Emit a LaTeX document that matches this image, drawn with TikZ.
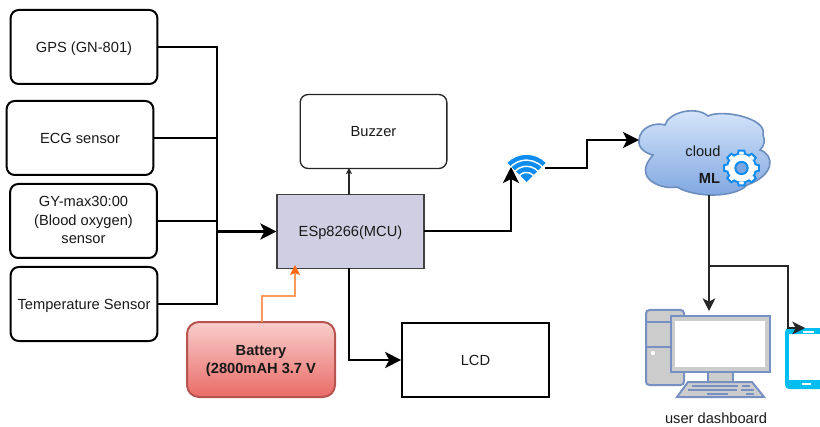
\documentclass[tikz,border=0pt]{standalone}
\usepackage{fontspec}
\setmainfont{Liberation Sans}
\usetikzlibrary{arrows.meta,calc}
\definecolor{bluestroke}{HTML}{6C8EBF}
\definecolor{cloudtop}{HTML}{DAE8FC}
\definecolor{cloudbot}{HTML}{7EA6E0}
\definecolor{batttop}{HTML}{F8CECC}
\definecolor{battbot}{HTML}{EA6B66}
\definecolor{battline}{HTML}{B85450}
\definecolor{wifiblue}{HTML}{0F8CF0}
\definecolor{phoneblue}{HTML}{00BEF2}
\definecolor{mcufill}{HTML}{D0CEE2}
\definecolor{orangeline}{HTML}{FF9A5C}
\definecolor{orangehead}{HTML}{FF6A13}
\definecolor{pcstroke}{HTML}{7790C4}
\newcommand{\lowtext}[1]{\raisebox{-3.9pt}[0pt][0pt]{#1}}
\tikzset{
  every node/.style={font=\fontsize{11pt}{13pt}\selectfont, align=center, text=black!90},
  block/.style={draw=black, fill=white, rounded corners=6, line width=1.5pt, minimum width=110pt, minimum height=55.5pt, inner sep=0pt},
  wire/.style={draw=black, line width=2.1pt, -{Stealth[length=12pt,width=12pt,inset=3pt]}},
  plainwire/.style={draw=black, line width=1.9pt},
  thinwire/.style={draw=black!85, line width=1pt, -{Stealth[length=9.5pt,width=9.5pt,inset=2.5pt]}},
  tinyarrow/.style={draw=black!85, line width=.8pt, -{Stealth[length=4.5pt,width=4.5pt,inset=1pt]}},
  pcpart/.style={draw=pcstroke, fill=black!20, line width=1.5pt},
  keyrow/.style={draw=pcstroke, line width=1pt},
}
\begin{document}
\begin{tikzpicture}[x=0.75pt,y=-0.75pt]
\useasboundingbox (0,0) rectangle (820,427);
% sensor boxes
\node[block] (gps) at (84,47) {\lowtext{GPS (GN-801)}};
\node[block] (ecg) at (80,138) {\lowtext{ECG sensor}};
\node[block] (gy) at (83.5,221) {\raisebox{-3pt}[0pt][0pt]{\renewcommand{\arraystretch}{1.06}\begin{tabular}[c]{@{}c@{}}GY-max30:00\\(Blood oxygen)\\sensor\end{tabular}}};
\node[block] (temp) at (84,304) {\lowtext{Temperature Sensor}};
\node[block, line width=1pt, draw=black!85] (buzzer) at (373.5,131.5) {\lowtext{Buzzer}};
\node[block, fill=mcufill, rounded corners=0, line width=1.1pt, draw=black!75] (esp) at (350.5,231.5) {\lowtext{ESp8266(MCU)}};
\node[block, rounded corners=0] (lcd) at (475.5,360) {\lowtext{LCD}};
\shade[top color=batttop, bottom color=battbot, draw=none, rounded corners=9] (187,322) rectangle (335,397);
\draw[draw=battline, line width=1.5pt, rounded corners=9] (187,322) rectangle (335,397);
\node[font=\fontsize{11pt}{13pt}\selectfont\bfseries] (battlabel) at (261,361) {Battery\\(2800mAH 3.7 V};
% connectors from sensors
\coordinate (bus) at (217,231.5);
\draw[plainwire] (gps.east) -| (bus);
\draw[plainwire] (ecg.east) -| (bus);
\draw[plainwire] (gy.east) -| (bus);
\draw[plainwire] (temp.east) -| (bus);
\draw[wire, line width=2.4pt] (bus) -- (esp.west);
\coordinate (espTop) at (349,195);
\coordinate (buzBot) at (349,168);
\draw[tinyarrow] (espTop) -- (buzBot);
\coordinate (espBot) at (349,268);
\draw[wire, line width=1.9pt] (espBot) |- (lcd.west);
% battery link
\coordinate (battTop) at (262,322);
\coordinate (espIn) at (295,265);
\draw[orangeline, line width=1pt, -{Stealth[length=7.5pt,width=7.5pt,inset=1.5pt,color=orangehead]}] (battTop) -- (262,296) -- (295,296) -- (espIn);
% wifi
\coordinate (wc) at (526.5,182);
\fill[wifiblue] (wc) -- ($(wc)+(45:20.3pt)$) arc[start angle=45,end angle=135,radius=20.3pt] -- cycle;
\foreach \r in {16.4,11.8,7.2}{
  \draw[white, line width=1.1pt] ($(wc)+(43:\r pt)$) arc[start angle=43,end angle=137,radius=\r pt];
}
\coordinate (wifiL) at (511,167);
\coordinate (wifiR) at (545,168);
\coordinate (espOut) at (424,231);
\draw[wire] (espOut) -| (wifiL);
% cloud
\coordinate (cloudL) at (639,140);
\path[top color=cloudtop, bottom color=cloudbot, draw=bluestroke, line width=1.2pt]
 (639,140) .. controls (640,127) and (655,122) .. (665,125)
 .. controls (668,113) and (695,105) .. (708,116)
 .. controls (722,109) and (768,118) .. (763,135)
 .. controls (765,140) and (765,145) .. (760,150)
 .. controls (775,155) and (775,175) .. (747,185)
 .. controls (735,198) and (695,198) .. (677,187)
 .. controls (660,190) and (632,178) .. (653,155)
 .. controls (645,153) and (638,148) .. (639,140) -- cycle;
\node (cloudtext) at (703,151) {cloud};
\node[font=\fontsize{11pt}{13pt}\selectfont\bfseries] (mltext) at (709.5,178) {ML};
% gear
\coordinate (gear) at (741.5,168);
\draw[wifiblue, line width=1.5pt, fill=white] (gear) circle[radius=10.8pt];
\foreach \a in {0,45,...,315}{
  \draw[wifiblue, line width=1.5pt, fill=white, rotate around={\a:(gear)}] ($(gear)+(-2.8pt,-10.2pt)$) -- ($(gear)+(-2.1pt,-13pt)$) -- ($(gear)+(2.1pt,-13pt)$) -- ($(gear)+(2.8pt,-10.2pt)$);
}
\fill[white] (gear) circle[radius=10pt];
\draw[wifiblue, line width=1.5pt, fill=cloudbot] (gear) circle[radius=4.6pt];
\draw[wire, -] (wifiR) -- (587,168) -- (587,140) -- (600,140);
\draw[wire] (600,140) -- (cloudL);
% computer
\draw[pcpart, rounded corners=2.5pt] (646,310) rectangle (684,385);
\draw[pcpart] (646,322) -- (684,322) (646,347) -- (684,347);
\fill[white] (653,353) circle[radius=1.6pt];
\draw[pcpart] (708,372) rectangle (733,382);
\draw[pcpart] (688,382) -- (752,382) -- (764,397) -- (677,397) -- cycle;
\draw[keyrow] (692,386) -- (738,386) (742,386) -- (750,386);
\draw[keyrow] (688,390) -- (737,390) (741,390) -- (754,390);
\draw[keyrow] (707,394) -- (728,394) (746,394) -- (754,394);
\draw[pcpart] (671,316) rectangle (770,372);
\node[draw=none, fill=white, minimum width=68pt, minimum height=35pt, inner sep=0pt] (screen) at (720,344) {};
\node (dash) at (716,418) {user dashboard};
% phone
\begin{scope}
\clip (0,0) rectangle (820,427);
\fill[phoneblue, rounded corners=3pt] (785,328) rectangle (840,389);
\fill[white] (789,334) rectangle (830,380);
\fill[white] (803,330.5) rectangle (814,332.5);
\fill[white] (802,383) rectangle (811,385);
\end{scope}
% cloud to outputs
\coordinate (cloudBot) at (709,195);
\coordinate (pcTop) at (709,311);
\coordinate (phone) at (805,328);
\draw[thinwire] (cloudBot) -- (pcTop);
\draw[thinwire] (709,266) -- (788,266) -- (788,328) -- (phone);
\end{tikzpicture}
\end{document}
